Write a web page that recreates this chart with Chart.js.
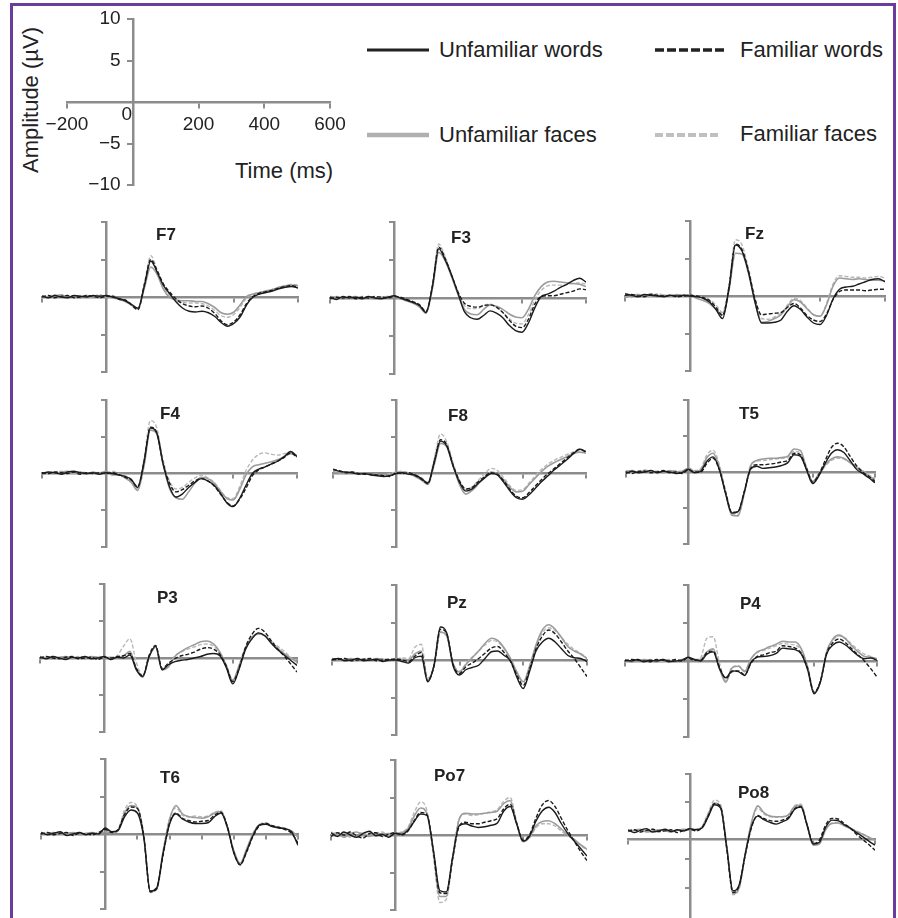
<!DOCTYPE html>
<html><head><meta charset="utf-8">
<script src="https://cdn.jsdelivr.net/npm/chart.js@4.4.0/dist/chart.umd.min.js"></script>
<style>
html,body{margin:0;padding:0;background:#fff;}
body{width:898px;height:918px;position:relative;overflow:hidden;font-family:"Liberation Sans",Arial,sans-serif;color:#222;}
canvas{position:absolute;}
#frame{position:absolute;left:10px;top:3px;width:880px;height:930px;border-left:3px solid #6b3d9b;border-top:3px solid #6b3d9b;border-right:3px solid #6b3d9b;}
.lbl{position:absolute;font-weight:bold;font-size:17px;line-height:1;transform:translateY(-50%);white-space:nowrap;}
.txt{position:absolute;font-size:22px;line-height:1;transform:translateY(-50%);white-space:nowrap;}
svg{position:absolute;left:0;top:0;}
</style></head><body>
<div id="frame"></div>
<div class="txt" id="ampTitle" style="left:31px;top:100px;transform:translate(-50%,-50%) rotate(-90deg);">Amplitude (µV)</div>
<div class="txt" style="left:235px;top:171px;">Time (ms)</div>
<svg width="898" height="918">
  <line x1="367" y1="50" x2="429" y2="50" stroke="#222" stroke-width="3"/>
  <line x1="655" y1="50" x2="727" y2="50" stroke="#222" stroke-width="3.5" stroke-dasharray="9 3"/>
  <line x1="367" y1="135" x2="429" y2="135" stroke="#b0b0b0" stroke-width="4.5"/>
  <line x1="655" y1="135" x2="721" y2="135" stroke="#c0c0c0" stroke-width="4" stroke-dasharray="8 3"/>
</svg>
<div class="txt" style="left:439px;top:50px;">Unfamiliar words</div>
<div class="txt" style="left:740px;top:50px;">Familiar words</div>
<div class="txt" style="left:439px;top:135px;">Unfamiliar faces</div>
<div class="txt" style="left:740px;top:134px;">Familiar faces</div>
<script>
// ---- time axis (ms) ----
const timesMs = [-200,-180,-160,-140,-120,-100,-80,-60,-40,-20,0,20,40,60,80,100,120,140,160,180,200,220,240,260,280,300,320,340,360,380,400,420,440,460,480,500,520,540,560,580,600];
const channelNames = ['F7','F3','Fz','F4','F8','T5','P3','Pz','P4','T6','Po7','Po8'];
const seriesNames = ['Unfamiliar words','Familiar words','Unfamiliar faces','Familiar faces'];
const panelXTicks = [-200,400,600];
const pzXTicks = [-200,200,400,600];
const t6XTicks = [-200,100,200,300,400,500,600];
const panelYTicks = [10,5,-5,-10];
const keyXTicks = [-200,200,400,600];
const keyYTicks = [10,5,-5,-10];

// ---- amplitudes (µV); UW = unfamiliar words, FW = familiar words, UF = unfamiliar faces, FF = familiar faces ----
const f7UW = [0.1,-0.1,0.2,0.0,-0.1,0.2,0.1,0.0,0.2,0.1, 0.2,0.0,-0.2,-0.5,-1.0,-1.5, 1.5,4.8,3.3,1.5,0.4, -0.7,-1.5,-1.9,-2.0,-1.9,-2.1,-2.6,-3.4,-3.9,-3.5, -2.6,-1.0,0.0,0.4,0.6,0.8,1.1,1.3,1.4,1.2];
const f7FW = [0.0,0.2,-0.1,0.1,0.2,-0.1,0.0,0.2,0.1,-0.1, 0.1,0.1,-0.3,-0.4,-1.1,-1.7, 1.7,5.0,3.5,1.7,0.6, -0.3,-0.9,-1.2,-1.3,-1.2,-1.5,-2.2,-3.2,-3.7,-3.3, -2.3,-0.8,0.1,0.5,0.7,0.9,1.2,1.4,1.5,1.3];
const f7UF = [0.2,0.0,0.1,0.3,0.0,0.1,-0.1,0.2,0.0,0.2, 0.1,-0.1,-0.3,-0.6,-1.1,-1.6, 1.2,4.0,3.0,1.0,-0.1, -0.4,-0.5,-0.5,-0.6,-0.6,-0.9,-1.4,-2.1,-2.3,-2.0, -1.0,0.1,0.4,0.6,0.8,1.0,1.3,1.5,1.6,1.5];
const f7FF = [-0.1,0.1,0.3,0.0,0.2,0.0,0.2,-0.1,0.1,0.3, 0.0,0.2,-0.2,-0.4,-0.9,-1.5, 1.8,5.5,3.6,1.4,0.2, -0.5,-0.7,-0.8,-0.8,-0.9,-1.2,-1.8,-2.5,-2.7,-2.3, -1.3,-0.1,0.4,0.6,0.8,1.0,1.3,1.5,1.7,1.6];

const f3UW = [0.1,-0.2,0.2,0.0,0.1,-0.1,0.2,0.0,-0.1,0.1, 0.3,0.0,-0.3,-0.6,-1.0,-1.9, 1.5,6.5,5.0,3.0,0.6, -1.8,-2.6,-2.8,-2.3,-1.7,-2.0,-2.6,-3.6,-4.3,-4.5, -3.3,-1.3,0.2,0.5,0.9,1.4,1.8,2.3,2.6,2.1];
const f3FW = [-0.1,0.1,0.0,0.2,-0.1,0.1,0.0,0.2,0.1,0.0, 0.2,0.1,-0.2,-0.5,-0.9,-1.8, 1.6,6.7,5.2,3.0,0.8, -0.7,-1.1,-1.2,-1.0,-0.9,-1.2,-1.9,-2.9,-3.7,-3.9, -2.8,-0.8,0.2,0.3,0.3,0.5,0.7,0.9,1.2,1.1];
const f3UF = [0.2,0.1,-0.1,0.1,0.2,0.0,0.1,-0.1,0.1,0.2, 0.1,-0.1,-0.4,-0.7,-1.2,-2.0, 1.2,6.0,4.9,2.8,0.5, -1.5,-2.1,-2.2,-1.5,-0.9,-1.1,-1.5,-2.1,-2.5,-2.6, -1.5,0.3,1.5,2.1,2.2,2.1,2.0,1.9,1.8,1.5];
const f3FF = [0.0,0.2,0.1,-0.1,0.0,0.2,0.1,0.0,0.2,0.0, 0.2,0.0,-0.3,-0.5,-1.0,-1.7, 1.6,7.1,5.4,3.1,0.7, -1.0,-1.4,-1.4,-1.0,-0.8,-1.2,-1.9,-2.7,-3.3,-3.4, -2.2,-0.3,1.0,1.6,1.7,1.7,1.8,1.9,2.0,1.8];

const fzUW = [0.3,0.1,-0.1,0.2,0.1,0.0,-0.1,0.1,0.0,0.1, 0.0,-0.1,-0.3,-0.8,-1.8,-3.0, 1.0,6.8,6.0,3.2,-0.8, -3.6,-3.6,-3.5,-3.2,-2.0,-1.3,-1.8,-2.8,-3.6,-3.8, -2.6,-0.4,0.9,1.2,1.3,1.6,1.9,2.2,2.3,1.9];
const fzFW = [0.1,0.2,0.0,-0.1,0.2,0.1,0.0,0.1,-0.1,0.0, 0.1,0.0,-0.2,-0.6,-1.5,-2.6, 1.2,6.9,6.2,3.3,-0.4, -2.5,-2.4,-2.3,-2.2,-1.5,-1.0,-1.6,-2.6,-3.2,-3.4, -2.4,-0.5,0.6,0.8,0.8,0.8,0.7,0.8,0.9,0.9];
const fzUF = [-0.2,0.1,0.2,0.0,0.3,-0.1,0.1,0.0,0.2,0.0, 0.2,-0.3,-0.6,-1.0,-1.8,-2.5, 0.8,5.7,5.6,3.0,-0.8, -3.5,-3.4,-3.0,-2.5,-1.4,-0.5,-0.8,-1.7,-2.5,-2.7, -1.2,1.3,2.4,2.3,2.2,2.3,2.2,2.1,2.1,2.0];
const fzFF = [0.0,-0.2,0.2,0.1,0.0,0.3,0.1,-0.1,0.1,0.2, 0.1,0.0,-0.2,-0.5,-1.2,-2.2, 1.5,7.5,6.8,3.6,-0.2, -3.0,-3.1,-2.8,-2.3,-1.2,-0.3,-0.6,-1.6,-2.5,-2.7, -1.0,1.6,2.7,2.6,2.5,2.5,2.4,2.5,2.6,2.4];

const f4UW = [0.0,0.2,0.1,-0.1,0.2,0.3,0.1,0.0,0.1,-0.1, 0.1,0.0,-0.2,-0.4,-0.8,-1.9, 1.5,6.2,5.5,1.3,-1.8, -3.2,-2.8,-1.9,-1.2,-0.7,-1.0,-1.6,-2.7,-4.0,-4.5, -3.4,-1.6,0.0,0.6,0.9,1.3,1.7,2.3,3.0,2.3];
const f4FW = [0.1,0.0,0.2,0.1,0.0,0.2,-0.1,0.1,0.0,0.1, 0.0,0.1,-0.1,-0.5,-0.9,-1.8, 1.6,6.3,5.6,1.4,-1.3, -2.5,-2.2,-1.6,-1.0,-0.7,-1.0,-1.7,-2.8,-3.9,-4.4, -3.5,-2.0,-0.3,0.5,0.9,1.3,1.7,2.2,2.8,2.2];
const f4UF = [-0.2,0.1,0.0,0.2,0.3,0.1,0.2,-0.1,0.2,0.0, 0.3,-0.2,-0.1,-0.6,-1.2,-2.3, 1.0,5.9,5.4,1.2,-2.0, -3.3,-3.5,-2.5,-1.3,-0.5,-0.7,-1.3,-2.4,-3.4,-3.6, -2.2,-0.2,0.9,1.2,1.4,1.6,1.9,2.3,2.7,2.4];
const f4FF = [0.1,-0.1,0.2,0.3,0.1,0.0,0.2,0.1,-0.1,0.2, 0.1,0.3,0.0,-0.3,-0.8,-2.0, 2.0,7.2,6.2,1.8,-1.0, -2.1,-1.9,-1.2,-0.6,-0.2,-0.6,-1.2,-2.3,-3.3,-3.4, -1.8,0.4,1.8,2.6,2.8,2.6,2.5,2.7,2.8,2.5];

const f8UW = [0.6,0.3,0.2,0.1,-0.1,0.0,-0.2,-0.3,-0.4,-0.3, 0.0,0.1,-0.1,-0.2,-0.7,-1.3, 1.5,4.4,3.7,1.0,-1.2, -2.4,-2.1,-1.3,-0.6,0.0,-0.2,-1.2,-2.4,-3.3,-3.5, -2.9,-2.0,-1.1,-0.3,0.5,1.2,1.9,2.7,3.3,3.0];
const f8FW = [0.5,0.4,0.1,0.2,0.0,-0.1,-0.1,-0.2,-0.3,-0.4, 0.1,0.0,0.1,-0.3,-0.8,-1.4, 1.6,4.6,3.9,1.1,-1.0, -2.1,-1.9,-1.1,-0.4,0.1,-0.1,-1.0,-2.2,-3.1,-3.3, -2.6,-1.7,-0.8,0.0,0.7,1.4,2.1,2.8,3.3,2.9];
const f8UF = [0.2,0.1,0.0,0.2,0.0,0.1,-0.1,-0.2,-0.1,-0.2, 0.1,0.2,0.0,-0.4,-0.9,-1.5, 1.2,4.1,3.6,1.0,-1.5, -2.8,-2.3,-1.4,-0.5,0.2,-0.1,-0.9,-1.9,-2.5,-2.4, -1.5,-0.6,0.3,1.0,1.5,1.9,2.3,2.7,2.9,2.8];
const f8FF = [0.3,0.0,0.2,0.1,0.1,-0.1,0.0,-0.1,-0.2,0.0, 0.2,0.3,0.1,-0.2,-0.6,-1.2, 2.0,5.4,4.3,1.4,-1.0, -2.2,-1.8,-0.9,0.0,0.7,0.4,-0.6,-1.7,-2.3,-2.2, -1.3,-0.3,0.6,1.3,1.8,2.2,2.6,2.9,3.0,2.8];

const t5UW = [-0.2,0.1,-0.1,0.0,0.2,-0.1,0.1,0.0,-0.2,-0.1, 0.4,-0.1,0.1,1.5,2.1,0.3, -3.0,-5.7,-5.5,-2.8,0.4, 0.8,0.5,0.6,0.7,0.9,1.3,2.4,2.2,0.3,-1.6, -0.5,1.2,2.6,3.1,2.7,1.6,0.4,-0.2,-0.8,-1.5];
const t5FW = [0.0,-0.2,0.1,0.1,-0.1,0.0,0.2,-0.1,0.0,-0.2, 0.3,0.0,0.0,1.2,1.9,0.3, -2.8,-5.6,-5.5,-2.7,0.4, 1.0,1.0,1.1,1.2,1.4,1.6,2.6,2.4,0.5,-1.4, -0.3,1.6,3.4,4.0,3.5,2.2,0.9,0.0,-0.6,-1.3];
const t5UF = [0.1,0.2,-0.1,0.2,0.0,0.1,-0.1,0.2,0.0,0.1, 0.5,0.1,0.3,2.0,2.6,0.6, -3.0,-6.0,-6.1,-3.0,0.8, 1.6,1.8,1.9,1.9,2.0,2.2,3.2,3.0,0.6,-1.3, -0.2,1.0,1.8,2.1,1.9,1.3,0.6,0.1,-0.6,-1.0];
const t5FF = [0.2,-0.1,0.0,0.3,0.1,-0.2,0.0,0.1,0.2,0.0, 0.6,0.2,0.5,2.4,3.0,1.0, -2.6,-5.8,-5.9,-2.8,0.9, 1.5,1.6,1.7,1.8,1.9,2.0,2.9,2.6,0.4,-1.5, -0.4,0.8,1.6,1.9,1.8,1.3,0.8,0.2,-0.4,-0.9];

const p3UW = [0.1,-0.1,0.2,0.0,-0.2,0.1,0.0,0.2,-0.1,0.0, 0.2,-0.2,0.1,0.0,0.4,-1.6, -2.5,0.2,1.6,-1.6,-0.9, -0.5,-0.3,-0.2,0.0,0.2,0.5,0.6,0.3,-1.3,-3.5, -1.5,1.2,2.6,3.4,3.0,2.0,1.1,0.4,-0.3,-1.0];
const p3FW = [0.0,0.2,0.0,-0.1,0.1,0.2,-0.1,0.0,0.1,-0.2, 0.1,0.0,0.2,0.3,0.6,-1.4, -2.4,0.4,1.7,-1.4,-0.7, -0.1,0.3,0.5,0.8,1.2,1.4,1.2,0.5,-1.1,-3.2, -1.3,1.5,3.2,4.0,3.5,2.3,1.2,0.3,-0.8,-1.9];
const p3UF = [0.2,0.0,-0.1,0.1,0.2,0.0,0.1,-0.1,0.2,0.1, 0.0,0.1,0.0,0.3,0.9,-1.5, -2.6,0.2,1.5,-1.6,-1.2, 0.2,0.9,1.4,1.8,2.2,2.3,1.9,0.8,-1.0,-3.0, -1.0,1.4,2.8,3.3,3.0,2.1,1.3,0.6,0.0,-0.5];
const p3FF = [-0.1,0.1,0.2,0.0,0.1,-0.1,0.2,0.1,0.0,0.2, 0.1,-0.2,0.3,1.6,2.6,-0.6, -2.4,0.2,1.4,-1.5,-1.0, 0.3,0.8,1.2,1.5,1.8,1.9,1.6,0.6,-1.1,-3.0, -1.1,1.3,2.7,3.2,3.0,2.3,1.6,0.9,0.1,-0.6];

const pzUW = [0.1,0.2,-0.1,0.0,0.2,-0.1,0.0,0.1,-0.2,0.0, 0.0,-0.2,-0.4,0.3,0.5,-2.9, -0.7,4.4,3.6,-0.8,-2.0, -1.3,-1.0,-0.7,0.2,1.1,1.2,0.6,-0.1,-2.3,-3.8, -1.5,1.2,2.4,2.9,2.4,1.5,0.6,0.3,0.2,-0.2];
const pzFW = [0.0,0.1,0.2,-0.1,0.0,0.1,0.2,-0.1,0.0,0.1, 0.1,0.0,-0.2,0.5,1.0,-2.8, -0.8,4.1,3.5,-0.6,-1.8, -0.9,-0.4,0.2,0.9,1.6,1.8,1.0,-0.2,-2.0,-3.4, -1.2,1.5,3.2,4.0,3.5,2.4,1.2,0.2,-1.0,-2.2];
const pzUF = [0.2,0.0,0.1,0.2,-0.1,0.1,0.0,0.2,0.1,-0.1, 0.2,0.1,0.0,0.8,1.2,-2.7, -0.8,3.7,3.2,-0.5,-1.6, -0.6,0.3,1.2,2.2,2.9,2.6,1.6,0.2,-1.6,-2.9, -0.8,2.0,4.0,4.7,4.1,3.0,1.8,1.2,0.8,0.2];
const pzFF = [-0.1,0.2,0.0,0.1,0.2,0.0,-0.1,0.1,0.2,0.0, 0.1,0.3,0.2,1.7,2.1,-2.4, -0.8,3.8,3.2,-0.4,-1.5, -0.5,0.4,1.2,2.0,2.6,2.4,1.5,0.1,-1.7,-3.0, -0.9,1.8,3.6,4.3,3.9,3.0,2.1,1.4,0.9,0.2];

const p4UW = [0.1,0.0,0.2,-0.1,0.1,0.0,0.2,-0.1,0.0,0.1, 0.5,0.2,0.0,0.9,1.2,-1.0, -2.2,-1.3,-1.4,-1.9,-0.2, 0.5,0.6,0.7,1.0,1.7,1.6,1.5,0.9,-1.2,-4.3, -2.8,0.9,2.1,2.5,2.1,1.4,0.7,0.3,0.4,0.1];
const p4FW = [0.0,0.2,0.1,0.0,-0.1,0.2,0.1,0.0,0.2,0.0, 0.4,0.1,0.1,1.1,1.3,-0.8, -2.3,-1.4,-1.3,-1.8,-0.3, 0.6,0.8,1.1,1.3,2.0,1.9,1.7,1.0,-1.0,-4.1, -2.7,1.0,2.4,2.9,2.4,1.6,0.8,0.0,-1.0,-2.1];
const p4UF = [0.2,-0.1,0.0,0.2,0.1,-0.1,0.2,0.1,-0.1,0.2, 0.3,0.2,0.2,1.2,1.6,-1.0, -2.8,-0.9,-0.7,-1.4,0.3, 1.2,1.5,1.9,2.2,2.6,2.5,2.5,1.6,-0.8,-4.2, -2.8,1.2,2.9,3.4,2.9,2.0,1.2,0.6,0.5,0.3];
const p4FF = [-0.1,0.1,0.2,0.0,0.2,0.1,-0.1,0.2,0.0,0.1, 0.4,0.1,0.4,3.0,3.2,-0.3, -2.6,-0.8,-0.6,-1.3,0.3, 1.1,1.4,1.7,2.0,2.3,2.2,2.1,1.4,-0.9,-4.1, -2.7,1.1,2.7,3.3,3.0,2.2,1.5,0.9,0.6,0.3];

const t6UW = [0.2,-0.1,0.1,0.3,-0.2,0.0,0.2,-0.1,0.1,0.0, 0.8,0.3,0.5,2.3,3.2,2.8, -0.5,-7.6,-7.2,-2.6,1.3, 2.7,2.0,1.6,1.4,1.4,1.5,2.3,2.8,0.9,-2.5, -4.1,-2.3,-0.2,1.2,1.3,1.0,0.8,0.7,0.3,-1.5];
const t6FW = [0.0,0.2,-0.1,0.1,0.2,-0.2,0.1,0.0,-0.1,0.2, 0.6,0.2,0.6,2.6,3.6,3.4, -0.3,-7.7,-7.3,-2.8,1.4, 2.8,2.1,1.8,1.6,1.7,1.8,2.5,2.9,1.0,-2.4, -4.1,-2.4,-0.3,1.1,1.4,1.1,0.9,0.6,0.1,-1.2];
const t6UF = [-0.1,0.1,0.2,0.0,0.1,0.2,-0.1,0.1,0.2,-0.1, 0.3,0.1,0.4,2.8,3.8,3.5, -0.2,-7.7,-7.4,-2.4,1.9, 3.8,2.7,2.3,2.2,2.1,2.3,2.8,3.0,1.0,-2.2, -3.9,-2.0,0.0,1.2,1.4,1.0,0.9,0.7,0.4,-0.4];
const t6FF = [0.1,0.0,-0.2,0.2,0.1,-0.1,0.2,0.0,0.1,0.2, 0.4,0.3,0.6,3.2,4.2,3.6, -0.3,-7.8,-7.3,-2.3,2.0, 3.5,2.5,2.3,2.4,2.3,2.4,2.9,3.1,1.0,-2.3, -4.0,-2.1,0.1,1.3,1.5,1.1,0.9,0.8,0.3,-0.5];

const po7UW = [0.3,-0.2,0.4,0.0,-0.3,0.2,0.5,-0.1,0.1,-0.3, 0.2,0.1,0.6,1.8,2.8,2.6, -2.0,-7.4,-7.6,-3.0,1.2, 1.5,1.2,1.0,1.1,1.3,1.6,3.2,3.8,1.5,-0.8, -0.2,1.8,3.2,3.7,3.0,1.5,0.2,-0.8,-1.8,-2.8];
const po7FW = [-0.2,0.3,0.0,0.4,-0.1,-0.4,0.2,0.3,-0.2,0.1, 0.3,0.0,0.5,1.9,3.0,2.7, -2.2,-7.7,-7.8,-3.2,1.1, 1.7,1.5,1.5,1.7,1.9,2.2,3.5,4.1,1.6,-0.7, 0.0,2.2,4.0,4.6,3.8,2.2,0.6,-0.8,-2.2,-3.4];
const po7UF = [0.1,0.3,-0.3,0.2,0.4,0.0,-0.2,0.3,0.1,0.2, 0.1,0.3,0.8,2.5,3.6,2.8, -2.3,-8.2,-8.2,-3.0,2.0, 2.9,2.8,2.8,2.9,3.0,3.2,4.2,4.6,1.6,-0.9, -0.3,1.2,1.8,1.9,1.5,0.8,0.0,-0.6,-1.3,-1.9];
const po7FF = [0.4,0.0,0.2,-0.3,0.1,0.3,-0.1,0.2,0.4,0.0, 0.2,0.4,1.0,3.0,4.4,3.2, -2.8,-9.0,-8.6,-3.2,2.1, 2.8,2.6,2.7,2.9,3.1,3.4,4.5,5.0,1.7,-0.9, -0.4,0.9,1.5,1.5,1.2,0.5,-0.1,-0.7,-1.4,-2.0];

const po8UW = [0.2,-0.3,0.1,0.4,-0.2,0.0,0.3,-0.1,0.2,0.0, 0.4,0.2,0.5,2.5,4.6,4.0, -3.0,-10.5,-9.5,-4.0,0.8, 2.6,2.0,1.5,1.2,1.6,2.2,3.8,4.2,1.0,-2.3, -2.0,0.6,1.9,1.8,1.1,0.5,-0.3,-1.0,-1.8,-2.5];
const po8FW = [0.0,0.2,-0.2,0.1,0.3,-0.1,0.0,0.2,-0.3,0.1, 0.3,0.0,0.6,2.7,4.8,4.2, -3.2,-10.8,-9.6,-4.2,0.6, 2.7,2.2,1.8,1.7,1.9,2.4,3.9,4.3,1.1,-2.2, -1.6,1.0,2.2,2.1,1.3,0.5,-0.6,-1.5,-2.4,-3.4];
const po8UF = [-0.1,0.1,0.3,-0.2,0.0,0.2,0.1,-0.2,0.1,0.3, 0.2,0.3,0.7,2.9,4.9,4.3, -2.8,-11.0,-10.0,-4.0,1.5, 4.4,3.2,2.6,2.5,2.5,2.8,4.3,4.5,1.0,-2.5, -2.3,0.2,1.3,1.4,0.9,0.4,-0.1,-0.6,-1.1,-1.6];
const po8FF = [0.1,0.0,-0.1,0.2,0.3,-0.2,0.2,0.0,0.1,-0.1, 0.3,0.2,0.8,3.2,5.4,4.6, -2.6,-11.2,-10.1,-3.8,1.3, 4.0,3.0,2.5,2.4,2.5,2.9,4.4,4.7,1.2,-2.4, -2.2,0.3,1.4,1.5,1.0,0.5,0.0,-0.5,-1.1,-1.7];

const panelSeries = [
  [f7UW,f7FW,f7UF,f7FF],[f3UW,f3FW,f3UF,f3FF],[fzUW,fzFW,fzUF,fzFF],
  [f4UW,f4FW,f4UF,f4FF],[f8UW,f8FW,f8UF,f8FF],[t5UW,t5FW,t5UF,t5FF],
  [p3UW,p3FW,p3UF,p3FF],[pzUW,pzFW,pzUF,pzFF],[p4UW,p4FW,p4UF,p4FF],
  [t6UW,t6FW,t6UF,t6FF],[po7UW,po7FW,po7UF,po7FF],[po8UW,po8FW,po8UF,po8FF]
];
const panelXTickSets = [panelXTicks,panelXTicks,panelXTicks,panelXTicks,panelXTicks,panelXTicks,panelXTicks,pzXTicks,panelXTicks,t6XTicks,panelXTicks,panelXTicks];

// ---- layout (pixel geometry of each panel) ----
const panelLayout = [
  {x0:106,x600:298,y0:296.5,ppu:7.5,ymin:-10,ymax:10,axisAt:0,lx:156,ly:234},
  {x0:394,x600:586,y0:297.5,ppu:7.6,ymin:-10,ymax:10,axisAt:0,lx:451,ly:237},
  {x0:690,x600:885,y0:296,ppu:7.5,ymin:-10,ymax:10,axisAt:0,lx:745,ly:233},
  {x0:106,x600:297,y0:473,ppu:7.35,ymin:-10,ymax:10,axisAt:0,lx:160,ly:413},
  {x0:396,x600:586,y0:473,ppu:7.35,ymin:-10,ymax:10,axisAt:0,lx:448,ly:415},
  {x0:688,x600:875,y0:472,ppu:7.2,ymin:-10,ymax:10,axisAt:0,lx:739,ly:413},
  {x0:104,x600:297,y0:658,ppu:7.4,ymin:-10,ymax:10,axisAt:0,lx:157,ly:597},
  {x0:396,x600:587,y0:660,ppu:7.5,ymin:-10,ymax:10,axisAt:0,lx:447,ly:602},
  {x0:688,x600:877,y0:661,ppu:7.6,ymin:-10,ymax:10,axisAt:0,lx:740,ly:603},
  {x0:105,x600:298,y0:834,ppu:7.5,ymin:-10,ymax:10,axisAt:0,lx:160,ly:777},
  {x0:395,x600:587,y0:835,ppu:7.5,ymin:-10,ymax:10,axisAt:0,lx:434,ly:775},
  {x0:690,x600:875,y0:831,ppu:5.67,ymin:-16,ymax:10,axisAt:-1.5,lx:738,ly:792}
];
const keyLayout = {x0:133,x600:330,y0:102,ppu:8.3,ymin:-10,ymax:10,axisAt:0};

const AXIS = '#8c8c8c';
const seriesStyle = [
  {color:'#1b1b1b', dash:[], width:1.4},
  {color:'#1b1b1b', dash:[4,2], width:1.4},
  {color:'#9c9c9c', dash:[], width:1.6},
  {color:'#b8b8b8', dash:[4,2], width:1.4}
];
const PAD = 40;
const fontFam = '"Liberation Sans", Arial, sans-serif';
const minus = v => v < 0 ? '\u2212' + Math.abs(v) : String(v);

function makeCanvas(g) {
  const k = (g.x600 - g.x0) / 600;
  const left = Math.round(g.x0 - 200 * k), right = Math.round(g.x600);
  const top = Math.round(g.y0 - g.ymax * g.ppu), bottom = Math.round(g.y0 - g.ymin * g.ppu);
  const cv = document.createElement('canvas');
  cv.width = right - left + 2 * PAD; cv.height = bottom - top + 2 * PAD;
  cv.style.left = (left - PAD) + 'px'; cv.style.top = (top - PAD) + 'px';
  cv.style.width = cv.width + 'px'; cv.style.height = cv.height + 'px';
  document.body.appendChild(cv);
  return cv;
}

function baseOptions(g, xTicks, yTicks, showLabels) {
  const tickFont = {family: fontFam, size: 19};
  const tl = showLabels ? 5 : 4;
  const scales = {
    x: {
      type: 'linear', min: -200, max: 600, position: {y: g.axisAt},
      border: {display: true, color: AXIS, width: 2.5},
      grid: {display: true, drawOnChartArea: false, drawTicks: true, tickLength: tl, color: AXIS, lineWidth: 2},
      ticks: {display: showLabels, font: tickFont, color: '#222', padding: 6, callback: minus, autoSkip: false, maxRotation: 0},
      afterBuildTicks: s => { s.ticks = xTicks.map(v => ({value: v})); }
    },
    y: {
      type: 'linear', min: g.ymin, max: g.ymax, position: {x: 0},
      border: {display: true, color: AXIS, width: 2.5},
      grid: {display: true, drawOnChartArea: false, drawTicks: true, tickLength: tl, color: AXIS, lineWidth: 2},
      ticks: {display: false},
      afterBuildTicks: s => { s.ticks = yTicks.map(v => ({value: v})); }
    }
  };
  if (showLabels) {
    // labels of the amplitude axis, set just left of the tick marks
    scales.yl = {
      type: 'linear', axis: 'y', min: g.ymin, max: g.ymax, position: {x: -37},
      border: {display: false}, grid: {display: false, drawTicks: false},
      ticks: {display: true, font: tickFont, color: '#222', padding: 0, callback: minus, autoSkip: false},
      afterBuildTicks: s => { s.ticks = yTicks.map(v => ({value: v})); }
    };
    // the "0" at the origin
    scales.xz = {
      type: 'linear', axis: 'x', min: -200, max: 600, position: {y: 0},
      border: {display: false}, grid: {display: false, drawTicks: false},
      ticks: {display: true, font: tickFont, color: '#222', padding: 1, labelOffset: -6, callback: v => String(v)},
      afterBuildTicks: s => { s.ticks = [{value: 0}]; }
    };
  }
  return {
    responsive: false, animation: false, events: [],
    layout: {padding: PAD},
    plugins: {legend: {display: false}, tooltip: {enabled: false}, title: {display: false}},
    elements: {point: {radius: 0}},
    scales
  };
}

// key axes (top-left)
new Chart(makeCanvas(keyLayout), {
  type: 'line',
  data: {datasets: []},
  options: baseOptions(keyLayout, keyXTicks, keyYTicks, true)
});

// electrode panels
panelLayout.forEach((g, p) => {
  const datasets = panelSeries[p].map((vals, s) => ({
    label: seriesNames[s],
    data: timesMs.map((t, i) => ({x: t, y: vals[i]})),
    borderColor: seriesStyle[s].color,
    borderDash: seriesStyle[s].dash,
    borderWidth: seriesStyle[s].width,
    fill: false,
    cubicInterpolationMode: 'monotone',
    pointRadius: 0
  }));
  new Chart(makeCanvas(g), {type: 'line', data: {datasets}, options: baseOptions(g, panelXTickSets[p], panelYTicks, false)});
  const d = document.createElement('div');
  d.className = 'lbl'; d.textContent = channelNames[p];
  d.style.left = g.lx + 'px'; d.style.top = g.ly + 'px';
  document.body.appendChild(d);
});
</script>
</body></html>
